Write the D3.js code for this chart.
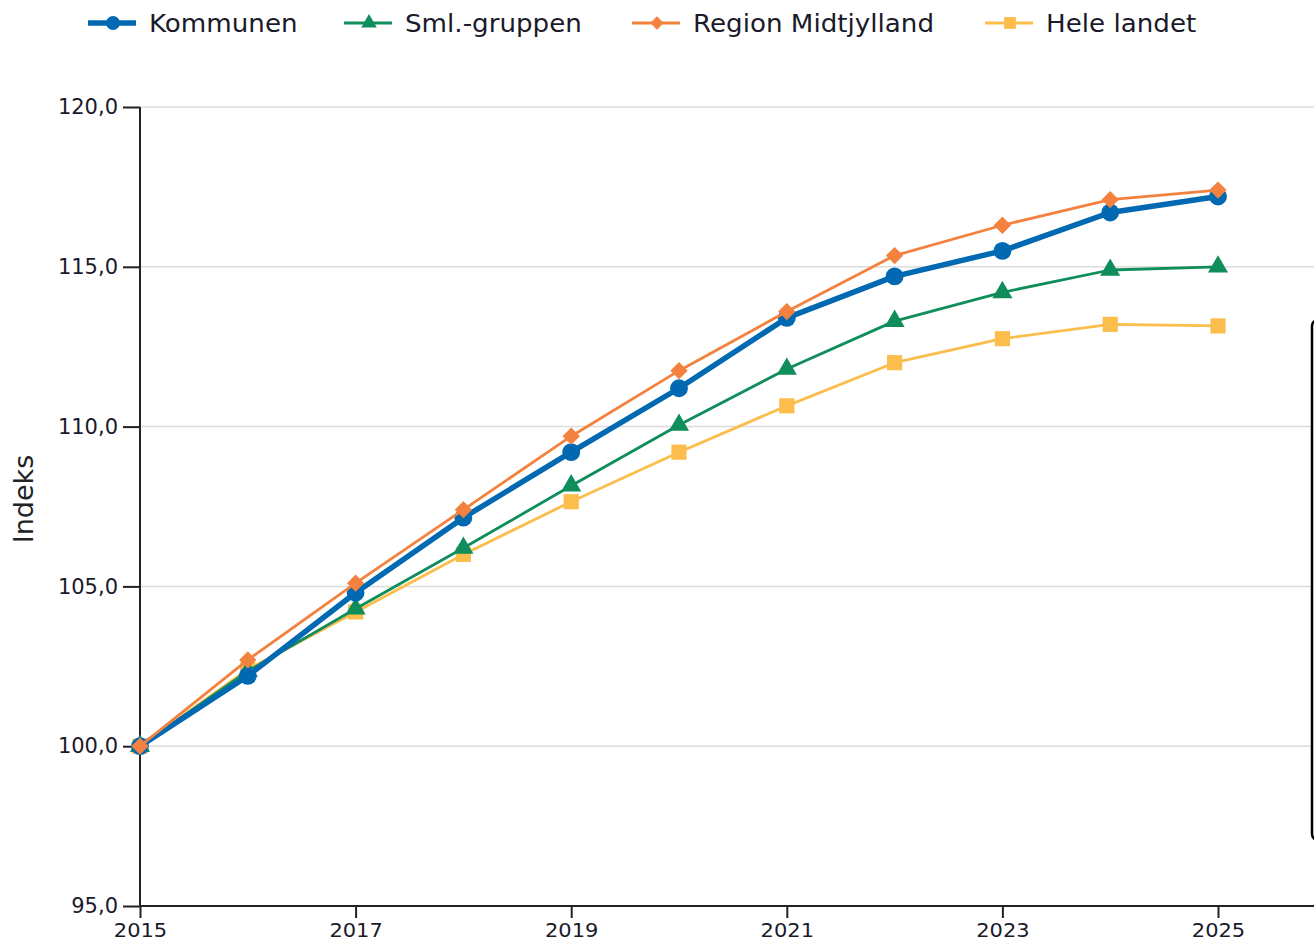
<!DOCTYPE html>
<html><head><meta charset="utf-8">
<script src="https://cdn.jsdelivr.net/npm/d3@7"></script>
<style>body{margin:0;background:#fff;overflow:hidden}svg{display:block;font-family:"DejaVu Sans",Verdana,sans-serif}</style>
</head><body><svg id="c" width="1314" height="943"></svg>
<script>
const years = [2015,2016,2017,2018,2019,2020,2021,2022,2023,2024,2025];
const kommunen = [100,102.2,104.8,107.15,109.2,111.2,113.4,114.7,115.5,116.7,117.2];
const smlGruppen = [100,102.35,104.3,106.2,108.15,110.05,111.8,113.3,114.2,114.9,115.0];
const regionMidtjylland = [100,102.7,105.1,107.4,109.7,111.75,113.6,115.35,116.3,117.1,117.4];
const heleLandet = [100,102.4,104.2,106.0,107.65,109.2,110.65,112.0,112.75,113.2,113.15];
const yTicks = [95,100,105,110,115,120];
const xTicks = [2015,2017,2019,2021,2023,2025];
const seriesNames = ["Kommunen","Sml.-gruppen","Region Midtjylland","Hele landet"];

const diamond = {draw(ctx,size){const r=Math.sqrt(size/2);ctx.moveTo(0,-r);ctx.lineTo(r,0);ctx.lineTo(0,r);ctx.lineTo(-r,0);ctx.closePath();}};
const series = [
 {name:seriesNames[0], values:kommunen, color:"#0069b1", width:5.5, sym:d3.symbolCircle, size:250},
 {name:seriesNames[1], values:smlGruppen, color:"#0f8d5b", width:2.8, sym:d3.symbolTriangle, size:175},
 {name:seriesNames[2], values:regionMidtjylland, color:"#f3823f", width:2.8, sym:diamond, size:150},
 {name:seriesNames[3], values:heleLandet, color:"#fbbd4b", width:2.8, sym:d3.symbolSquare, size:230}
];
const drawOrder = [3,1,0,2];

const svg = d3.select("#c");
const x = d3.scaleLinear().domain([2015,2025]).range([140,1218]);
const y = d3.scaleLinear().domain([95,120]).range([906,107]);

// grid
svg.append("g").selectAll("line").data(yTicks.filter(t=>t>95)).join("line")
 .attr("x1",140).attr("x2",1314).attr("y1",d=>y(d)).attr("y2",d=>y(d))
 .attr("stroke","#dcdcdc").attr("stroke-width",1.5);

// axes
const yAxis = svg.append("g").attr("transform","translate(140,0)")
 .call(d3.axisLeft(y).tickValues(yTicks).tickSize(17).tickPadding(5).tickFormat(d=>d3.format(".1f")(d).replace(".",",")));
const xAxis = svg.append("g").attr("transform","translate(0,906)")
 .call(d3.axisBottom(x).tickValues(xTicks).tickSize(12).tickPadding(5).tickFormat(d3.format("d")));
xAxis.select(".domain").attr("d","M140,0H1314");
yAxis.select(".domain").attr("d","M0,906V107");
[xAxis,yAxis].forEach(a=>{
 a.selectAll(".domain, line").attr("stroke","#222").attr("stroke-width",2);
 a.selectAll("text").attr("fill","#1a1a2a").style("font-size","21px").style("font-family","DejaVu Sans, Verdana, sans-serif");
});
xAxis.selectAll("text").style("font-size","20px").attr("transform","scale(1.05,1)").each(function(){
 const t=d3.select(this.parentNode).attr("transform");
});

svg.append("text").attr("transform","translate(33,499) rotate(-90)").attr("text-anchor","middle")
 .style("font-size","27px").attr("fill","#222").text("Indeks");

// lines
const line = d3.line().x((d,i)=>x(years[i])).y(d=>y(d));
drawOrder.forEach(k=>{
 const s = series[k];
 const g = svg.append("g");
 g.append("path").attr("d",line(s.values)).attr("fill","none").attr("stroke",s.color).attr("stroke-width",s.width).attr("stroke-linejoin","round");
 g.selectAll("path.m").data(s.values).join("path").attr("class","m")
  .attr("transform",(d,i)=>`translate(${x(years[i])},${y(d)})`)
  .attr("d",d3.symbol().type(s.sym).size(s.size)).attr("fill",s.color);
});

// legend
const legX = [88,344,632,985];
series.forEach((s,i)=>{
 const g = svg.append("g").attr("transform",`translate(${legX[i]},23)`);
 g.append("line").attr("x1",0).attr("x2",48).attr("stroke",s.color).attr("stroke-width",s.width);
 g.append("path").attr("transform","translate(25,0)").attr("d",d3.symbol().type(s.sym).size(s.size*0.6)).attr("fill",s.color);
 g.append("text").attr("transform","translate(61,9) scale(1.09,1)").style("font-size","24px").attr("fill","#1a1a2a").text(s.name);
});

// clipped box at right edge
svg.append("rect").attr("x",1312).attr("y",320).attr("width",40).attr("height",520).attr("rx",6)
 .attr("fill","#fff").attr("stroke","#000").attr("stroke-width",2.5);
</script></body></html>
